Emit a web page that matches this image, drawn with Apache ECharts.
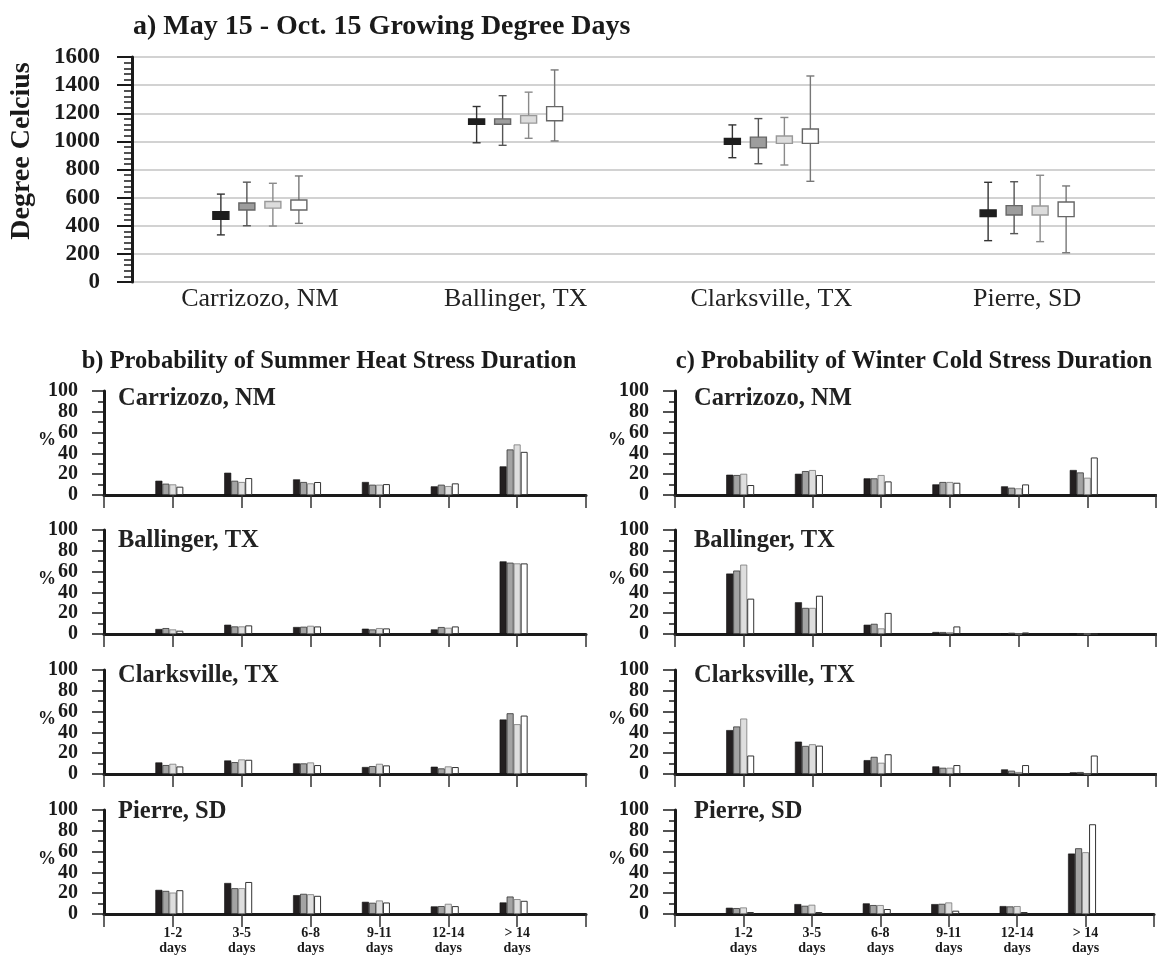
<!DOCTYPE html>
<html>
<head>
<meta charset="utf-8">
<script src="https://cdn.jsdelivr.net/npm/echarts@6/dist/echarts.min.js"></script>
<style>html,body{margin:0;padding:0;background:#fff}#c{width:1157px;height:958px}</style>
</head>
<body>
<div id="c"></div>
<script>
// ---------- DATA ----------
const sites = ['Carrizozo, NM', 'Ballinger, TX', 'Clarksville, TX', 'Pierre, SD'];
const durations = ['', '1-2\ndays', '3-5\ndays', '6-8\ndays', '9-11\ndays', '12-14\ndays', '> 14\ndays', ''];
const gddTicks = [0, 200, 400, 600, 800, 1000, 1200, 1400, 1600];
const pctTicks = [0, 20, 40, 60, 80, 100];

// Growing degree days: [site index, whisker min, box low, box high, whisker max]
const gddBlack = [[0, 335, 445, 500, 625], [1, 990, 1122, 1160, 1248], [2, 884, 980, 1020, 1117], [3, 294, 465, 512, 709]];
const gddDark  = [[0, 400, 512, 562, 710], [1, 972, 1122, 1160, 1325], [2, 841, 955, 1030, 1162], [3, 344, 476, 543, 713]];
const gddLight = [[0, 398, 525, 572, 702], [1, 1022, 1130, 1183, 1350], [2, 832, 986, 1038, 1170], [3, 287, 476, 540, 759]];
const gddWhite = [[0, 417, 512, 583, 754], [1, 1003, 1147, 1247, 1508], [2, 716, 986, 1088, 1465], [3, 208, 465, 569, 683]];

// Summer heat stress duration probability (%): rows = black, dark gray, light gray, white
const heatCarrizozo = [
  [13.7, 21.4, 15.0, 12.5, 8.3, 27.5],
  [10.9, 13.7, 12.5, 9.9, 9.9, 43.8],
  [10.2, 12.5, 11.2, 9.9, 8.6, 48.6],
  [8.0, 16.3, 12.5, 10.5, 11.2, 41.5]];
const heatBallinger = [
  [4.8, 8.9, 6.7, 5.1, 4.4, 69.8],
  [5.7, 7.3, 7.0, 4.4, 6.7, 68.6],
  [4.4, 7.3, 7.9, 5.7, 6.0, 67.9],
  [3.2, 8.3, 7.3, 5.4, 7.3, 67.9]];
const heatClarksville = [
  [11.1, 13.0, 10.2, 6.7, 7.0, 52.4],
  [8.6, 11.4, 10.2, 7.6, 5.4, 58.4],
  [9.8, 14.0, 11.1, 9.8, 7.3, 47.9],
  [7.3, 13.7, 8.6, 8.3, 6.7, 56.2]];
const heatPierre = [
  [23.2, 29.8, 18.1, 11.7, 7.3, 11.1],
  [22.2, 24.8, 19.4, 10.8, 7.6, 16.8],
  [20.6, 24.8, 19.0, 13.0, 9.8, 14.3],
  [22.9, 30.8, 17.5, 11.1, 7.6, 12.7]];

// Winter cold stress duration probability (%)
const coldCarrizozo = [
  [19.5, 20.4, 16.0, 10.2, 8.3, 24.0],
  [19.2, 23.0, 16.0, 12.5, 7.0, 21.7],
  [20.4, 24.0, 19.2, 12.5, 6.4, 16.6],
  [9.6, 19.2, 13.1, 11.8, 10.2, 36.1]];
const coldBallinger = [
  [58.1, 30.5, 8.9, 1.9, 0, 0],
  [61.0, 25.1, 9.8, 1.9, 1.2, 0],
  [66.7, 25.1, 5.4, 1.6, 0, 0],
  [34.0, 36.8, 20.3, 7.3, 1.5, 0]];
const coldClarksville = [
  [42.2, 31.1, 13.3, 7.3, 4.4, 1.6],
  [45.7, 27.0, 16.5, 6.0, 3.2, 1.9],
  [53.3, 28.6, 10.8, 6.0, 1.9, 0],
  [17.8, 27.3, 19.0, 8.6, 8.6, 17.8]];
const coldPierre = [
  [6.0, 9.5, 10.2, 9.5, 7.6, 58.1],
  [5.7, 7.9, 8.6, 9.8, 7.3, 63.2],
  [6.3, 8.9, 8.6, 11.1, 7.6, 59.4],
  [1.9, 1.9, 4.8, 3.2, 1.9, 86.3]];

// ---------- STYLE / LAYOUT ----------
const FONT = "'Liberation Serif','Times New Roman',serif";
const INK = '#1a1a1a';
const boxStyles = [
  {fill: '#1e1e1e', stroke: '#1e1e1e', whisker: '#333333'},
  {fill: '#9d9d9d', stroke: '#666666', whisker: '#555555'},
  {fill: '#dcdcdc', stroke: '#999999', whisker: '#8a8a8a'},
  {fill: '#ffffff', stroke: '#666666', whisker: '#777777'}
];
const barStyles = [
  {color: '#231f20', borderColor: '#111', borderWidth: 0.6},
  {color: '#a3a3a3', borderColor: '#333', borderWidth: 0.8},
  {color: '#dedede', borderColor: '#777', borderWidth: 0.8},
  {color: '#ffffff', borderColor: '#333', borderWidth: 1}
];
const gddSets = [gddBlack, gddDark, gddLight, gddWhite];
const heatSets = [heatCarrizozo, heatBallinger, heatClarksville, heatPierre];
const coldSets = [coldCarrizozo, coldBallinger, coldClarksville, coldPierre];
const panelTops = [391, 530, 670, 810];
const siteLabelY = [399, 541, 676, 812];

const chart = echarts.init(document.getElementById('c'));

const grids = [{left: 132, right: 2, top: 57, height: 225}];
const xAxes = [{
  gridIndex: 0, type: 'category', data: sites,
  axisLine: {show: false}, axisTick: {show: false}, splitLine: {show: false},
  axisLabel: {fontFamily: FONT, fontSize: 26, color: '#222', margin: 4}
}];
const yAxes = [{
  gridIndex: 0, type: 'value', min: gddTicks[0], max: gddTicks[gddTicks.length - 1], interval: gddTicks[1] - gddTicks[0],
  axisLine: {show: true, lineStyle: {color: INK, width: 3}},
  axisTick: {show: true, length: 15, lineStyle: {color: INK, width: 2}},
  minorTick: {show: true, splitNumber: 5, length: 8, lineStyle: {color: INK, width: 1.5}},
  splitLine: {show: true, lineStyle: {color: '#d2d2d2', width: 2}},
  axisLabel: {fontFamily: FONT, fontWeight: 'bold', fontSize: 23, color: INK, margin: 32,
    formatter: function (v) { return String(v); }}
}];
const series = [];

function boxRenderer(idx) {
  const st = boxStyles[idx];
  const offset = (idx - 1.5) * 26;
  return function (params, api) {
    const cat = api.value(0);
    const pMin = api.coord([cat, api.value(1)]);
    const pLo = api.coord([cat, api.value(2)]);
    const pHi = api.coord([cat, api.value(3)]);
    const pMax = api.coord([cat, api.value(4)]);
    const x = pMin[0] + offset;
    const hw = 8, cap = 4;
    const ls = {stroke: st.whisker, lineWidth: 1.4};
    return {
      type: 'group',
      children: [
        {type: 'line', shape: {x1: x, y1: pMax[1], x2: x, y2: pMin[1]}, style: ls},
        {type: 'line', shape: {x1: x - cap, y1: pMax[1], x2: x + cap, y2: pMax[1]}, style: ls},
        {type: 'line', shape: {x1: x - cap, y1: pMin[1], x2: x + cap, y2: pMin[1]}, style: ls},
        {type: 'rect', shape: {x: x - hw, y: pHi[1], width: 2 * hw, height: pLo[1] - pHi[1]},
          style: {fill: st.fill, stroke: st.stroke, lineWidth: 1.4}}
      ]
    };
  };
}
gddSets.forEach(function (set, i) {
  series.push({
    type: 'custom', xAxisIndex: 0, yAxisIndex: 0, data: set,
    encode: {x: 0, y: [1, 2, 3, 4]}, renderItem: boxRenderer(i), silent: true
  });
});

const titles = [
  {text: 'a) May 15 - Oct. 15 Growing Degree Days', left: 133, top: 13, padding: 0,
    textStyle: {fontFamily: FONT, fontWeight: 'bold', fontSize: 28, color: INK}},
  {text: 'b) Probability of Summer Heat Stress Duration', left: 329, top: 349, padding: 0, textAlign: 'center',
    textStyle: {fontFamily: FONT, fontWeight: 'bold', fontSize: 24.5, color: INK}},
  {text: 'c) Probability of Winter Cold Stress Duration', left: 914, top: 349, padding: 0, textAlign: 'center',
    textStyle: {fontFamily: FONT, fontWeight: 'bold', fontSize: 24.5, color: INK}}
];

[heatSets, coldSets].forEach(function (sets, col) {
  sets.forEach(function (rows, r) {
    const g = grids.length;
    grids.push({left: col === 0 ? 104 : 675, width: col === 0 ? 482 : 481, top: panelTops[r], height: 104});
    xAxes.push({
      gridIndex: g, type: 'category', data: durations, boundaryGap: false,
      axisLine: {show: true, lineStyle: {color: INK, width: 3}},
      axisTick: {show: true, interval: 0, length: 13, lineStyle: {color: '#333', width: 1.5}},
      axisLabel: {show: r === 3, interval: 0, fontFamily: FONT, fontWeight: 'bold', fontSize: 14, lineHeight: 15, color: INK, margin: 12},
      splitLine: {show: false}
    });
    yAxes.push({
      gridIndex: g, type: 'value', min: pctTicks[0], max: pctTicks[pctTicks.length - 1], interval: pctTicks[1] - pctTicks[0],
      axisLine: {show: true, lineStyle: {color: INK, width: 3}},
      axisTick: {show: true, length: 12, lineStyle: {color: INK, width: 1.5}},
      minorTick: {show: true, splitNumber: 2, length: 6, lineStyle: {color: INK, width: 1.5}},
      splitLine: {show: false},
      axisLabel: {fontFamily: FONT, fontWeight: 'bold', fontSize: 20, color: INK, margin: 26}
    });
    rows.forEach(function (vals, k) {
      series.push({
        type: 'bar', xAxisIndex: g, yAxisIndex: g,
        data: [null].concat(vals).concat([null]),
        barWidth: 7, barGap: '0%', itemStyle: barStyles[k], silent: true
      });
    });
    // empty spacer slot: the reference groups sit slightly left of each tick
    series.push({type: 'bar', xAxisIndex: g, yAxisIndex: g, data: [], barWidth: 7, barGap: '0%', silent: true});
    titles.push({text: sites[r], left: col === 0 ? 118 : 694, top: siteLabelY[r] - 13, padding: 0,
      textStyle: {fontFamily: FONT, fontWeight: 'bold', fontSize: 24.5, color: '#222'}});
    titles.push({text: '%', left: col === 0 ? 47 : 617, top: panelTops[r] + 40, padding: 0, textAlign: 'center',
      textStyle: {fontFamily: FONT, fontWeight: 'bold', fontSize: 18, color: INK}});
  });
});

chart.setOption({
  backgroundColor: '#ffffff',
  animation: false,
  title: titles,
  grid: grids,
  xAxis: xAxes,
  yAxis: yAxes,
  series: series,
  graphic: [{
    type: 'text', x: 22, y: 151, rotation: Math.PI / 2,
    style: {text: 'Degree Celcius', font: 'bold 28px ' + FONT, fill: INK, textAlign: 'center', textVerticalAlign: 'middle'}
  }]
});
</script>
</body>
</html>
